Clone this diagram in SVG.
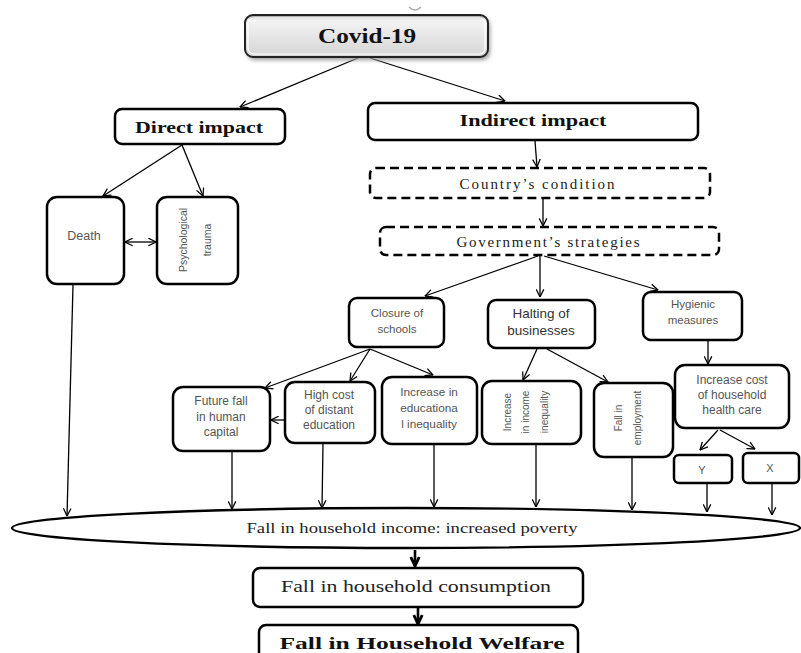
<svg xmlns="http://www.w3.org/2000/svg" width="801" height="653" viewBox="0 0 801 653">
<defs>
<style>
.bx{fill:#fff;stroke:#000;stroke-width:2.5}
.dash{fill:#fff;stroke:#000;stroke-width:2.5;stroke-dasharray:9 5}
.ln{fill:none;stroke:#000;stroke-width:1.3}
.lnb{fill:none;stroke:#000;stroke-width:2.6}
.serB{font-family:"Liberation Serif",serif;font-weight:bold;fill:#111;text-anchor:middle}
.ser{font-family:"Liberation Serif",serif;fill:#222;text-anchor:middle}
.sans{font-family:"Liberation Sans",Arial,sans-serif;fill:#555;text-anchor:middle}
</style>
<linearGradient id="g" x1="0" y1="0" x2="0" y2="1">
<stop offset="0" stop-color="#9a9a9a"/>
<stop offset="0.12" stop-color="#f4f4f4"/>
<stop offset="0.6" stop-color="#e2e2e2"/>
<stop offset="1" stop-color="#d4d4d4"/>
</linearGradient>
<filter id="sh" x="-10%" y="-30%" width="120%" height="160%">
<feGaussianBlur stdDeviation="2"/>
</filter>
<marker id="a" viewBox="0 0 10 10" refX="9.5" refY="5" markerWidth="9" markerHeight="9" markerUnits="userSpaceOnUse" orient="auto-start-reverse">
<path d="M1,0.8 L9.5,5 L1,9.2" fill="none" stroke="#000" stroke-width="1.4"/>
</marker>
<marker id="b" viewBox="0 0 10 10" refX="9" refY="5" markerWidth="12" markerHeight="12" markerUnits="userSpaceOnUse" orient="auto">
<path d="M1.5,1.5 L9,5 L1.5,8.5" fill="none" stroke="#000" stroke-width="2.4"/>
</marker>
</defs>
<rect width="801" height="653" fill="#fff"/>
<path d="M409,7 Q415,13 421,7" fill="none" stroke="#aaa" stroke-width="1.5"/>

<g id="connectors">
<line class="ln" x1="358" y1="58" x2="240" y2="107" marker-end="url(#a)"/>
<line class="ln" x1="370" y1="58" x2="505" y2="101" marker-end="url(#a)"/>
<line class="ln" x1="182" y1="145" x2="103" y2="196" marker-end="url(#a)"/>
<line class="ln" x1="182" y1="145" x2="203" y2="196" marker-end="url(#a)"/>
<line class="ln" x1="125" y1="242" x2="156" y2="242" marker-start="url(#a)" marker-end="url(#a)"/>
<line class="ln" x1="535" y1="141" x2="537" y2="167" marker-end="url(#a)"/>
<line class="ln" x1="543" y1="199" x2="543" y2="226" marker-end="url(#a)"/>
<line class="ln" x1="538" y1="256" x2="425" y2="296" marker-end="url(#a)"/>
<line class="ln" x1="540" y1="256" x2="540" y2="297" marker-end="url(#a)"/>
<line class="ln" x1="544" y1="256" x2="658" y2="290" marker-end="url(#a)"/>
<line class="ln" x1="370" y1="349" x2="265" y2="388" marker-end="url(#a)"/>
<line class="ln" x1="370" y1="349" x2="350" y2="381" marker-end="url(#a)"/>
<line class="ln" x1="370" y1="349" x2="433" y2="375" marker-end="url(#a)"/>
<line class="ln" x1="285" y1="420" x2="271" y2="420" marker-end="url(#a)"/>
<line class="ln" x1="537" y1="349" x2="523" y2="380" marker-end="url(#a)"/>
<line class="ln" x1="547" y1="349" x2="608" y2="382" marker-end="url(#a)"/>
<line class="ln" x1="708" y1="341" x2="708" y2="364" marker-end="url(#a)"/>
<line class="ln" x1="718" y1="430" x2="700" y2="450" marker-end="url(#a)"/>
<line class="ln" x1="720" y1="430" x2="755" y2="449" marker-end="url(#a)"/>
<line class="ln" x1="73" y1="285" x2="67" y2="516" marker-end="url(#a)"/>
<line class="ln" x1="232" y1="452" x2="232" y2="509" marker-end="url(#a)"/>
<line class="ln" x1="323" y1="444" x2="322" y2="508" marker-end="url(#a)"/>
<line class="ln" x1="434" y1="445" x2="434" y2="507" marker-end="url(#a)"/>
<line class="ln" x1="536" y1="445" x2="536" y2="507" marker-end="url(#a)"/>
<line class="ln" x1="632" y1="458" x2="632" y2="510" marker-end="url(#a)"/>
<line class="ln" x1="707" y1="484" x2="707" y2="512" marker-end="url(#a)"/>
<line class="ln" x1="772" y1="484" x2="772" y2="515" marker-end="url(#a)"/>
<line class="lnb" x1="415" y1="550" x2="415" y2="566" marker-end="url(#b)"/>
<line class="lnb" x1="418" y1="608" x2="418" y2="624" marker-end="url(#b)"/>
</g>

<g id="covid">
<rect x="247" y="18" width="243" height="42" rx="8" fill="#999" filter="url(#sh)"/>
<rect x="245" y="15" width="243" height="42" rx="8" fill="url(#g)" stroke="#222" stroke-width="2"/>
<rect x="248" y="18" width="237" height="36" rx="6" fill="none" stroke="#fff" stroke-width="1.2"/>
<text class="serB" x="367" y="43" font-size="20" textLength="98" lengthAdjust="spacingAndGlyphs">Covid-19</text>
</g>

<g id="direct">
<rect class="bx" x="115" y="109" width="170" height="35" rx="7" stroke-width="2.2"/>
<text class="serB" x="199" y="133" font-size="17" textLength="128" lengthAdjust="spacingAndGlyphs">Direct impact</text>
</g>

<g id="indirect">
<rect class="bx" x="368" y="103" width="330" height="37" rx="7" stroke-width="2.2"/>
<text class="serB" x="533" y="126" font-size="17" textLength="147" lengthAdjust="spacingAndGlyphs">Indirect impact</text>
</g>

<g id="country">
<rect class="dash" x="370" y="168" width="340" height="30" rx="6"/>
<text class="ser" x="537" y="189" font-size="15" textLength="155" lengthAdjust="spacing">Country’s condition</text>
</g>

<g id="government">
<rect class="dash" x="380" y="227" width="339" height="28" rx="6"/>
<text class="ser" x="548" y="247" font-size="15" textLength="183" lengthAdjust="spacing">Government’s strategies</text>
</g>

<g id="death">
<rect class="bx" x="47" y="197" width="77" height="87" rx="10"/>
<text class="sans" x="84" y="240" font-size="12.5">Death</text>
</g>

<g id="psych">
<rect class="bx" x="157" y="197" width="81" height="87" rx="10"/>
<text class="sans" font-size="10.5" transform="translate(187,240) rotate(-90)">Psychological</text>
<text class="sans" font-size="10.5" transform="translate(211,240) rotate(-90)">trauma</text>
</g>

<g id="closure">
<rect class="bx" x="349" y="298" width="95" height="49" rx="8"/>
<text class="sans" x="397" y="317" font-size="11.5">Closure of</text>
<text class="sans" x="397" y="333" font-size="11.5">schools</text>
</g>

<g id="halting">
<rect class="bx" x="488" y="300" width="107" height="48" rx="8"/>
<text class="sans" x="541" y="318" font-size="13.5" style="fill:#333">Halting of</text>
<text class="sans" x="541" y="335" font-size="13.5" style="fill:#333">businesses</text>
</g>

<g id="hygienic">
<rect class="bx" x="643" y="292" width="99" height="48" rx="8"/>
<text class="sans" x="693" y="308" font-size="11.5">Hygienic</text>
<text class="sans" x="693" y="324" font-size="11.5">measures</text>
</g>

<g id="future">
<rect class="bx" x="173" y="387" width="97" height="64" rx="10"/>
<text class="sans" x="221" y="405" font-size="12">Future fall</text>
<text class="sans" x="221" y="421" font-size="12">in human</text>
<text class="sans" x="221" y="436" font-size="12">capital</text>
</g>

<g id="highcost">
<rect class="bx" x="285" y="382" width="90" height="61" rx="10"/>
<text class="sans" x="329" y="399" font-size="12">High cost</text>
<text class="sans" x="329" y="414" font-size="12">of distant</text>
<text class="sans" x="329" y="429" font-size="12">education</text>
</g>

<g id="educineq">
<rect class="bx" x="382" y="377" width="95" height="67" rx="10"/>
<text class="sans" x="429" y="396" font-size="11.8">Increase in</text>
<text class="sans" x="429" y="412" font-size="11.8">educationa</text>
<text class="sans" x="429" y="428" font-size="11.8">l inequality</text>
</g>

<g id="incomeineq">
<rect class="bx" x="482" y="381" width="99" height="63" rx="10"/>
<text class="sans" font-size="10" transform="translate(511,412) rotate(-90)">Increase</text>
<text class="sans" font-size="10" transform="translate(529,412) rotate(-90)">in income</text>
<text class="sans" font-size="10" transform="translate(548,412) rotate(-90)">inequality</text>
</g>

<g id="employment">
<rect class="bx" x="594" y="383" width="79" height="74" rx="10"/>
<text class="sans" font-size="10" transform="translate(622,418) rotate(-90)">Fall in</text>
<text class="sans" font-size="10" transform="translate(641,418) rotate(-90)">employment</text>
</g>

<g id="healthcost">
<rect class="bx" x="675" y="365" width="114" height="63" rx="10"/>
<text class="sans" x="732" y="384" font-size="12">Increase cost</text>
<text class="sans" x="732" y="399" font-size="12">of household</text>
<text class="sans" x="732" y="414" font-size="12">health care</text>
</g>

<g id="y">
<rect class="bx" x="674" y="455" width="58" height="28" rx="5"/>
<text class="sans" x="702" y="474" font-size="11">Y</text>
</g>

<g id="x">
<rect class="bx" x="743" y="453" width="56" height="30" rx="5"/>
<text class="sans" x="770" y="472" font-size="11">X</text>
</g>

<g id="income">
<ellipse cx="406" cy="528" rx="394" ry="20" fill="#fff" stroke="#000" stroke-width="2.4"/>
<text class="ser" x="412" y="533" font-size="15" textLength="331" lengthAdjust="spacingAndGlyphs">Fall in household income: increased poverty</text>
</g>

<g id="consumption">
<rect class="bx" x="253" y="568" width="330" height="39" rx="7"/>
<text class="ser" x="416" y="592" font-size="16.5" textLength="270" lengthAdjust="spacingAndGlyphs">Fall in household consumption</text>
</g>

<g id="welfare">
<rect class="bx" x="259" y="625" width="319" height="40" rx="7"/>
<text class="serB" x="422" y="649" font-size="17.5" textLength="285" lengthAdjust="spacingAndGlyphs">Fall in Household Welfare</text>
</g>
</svg>
